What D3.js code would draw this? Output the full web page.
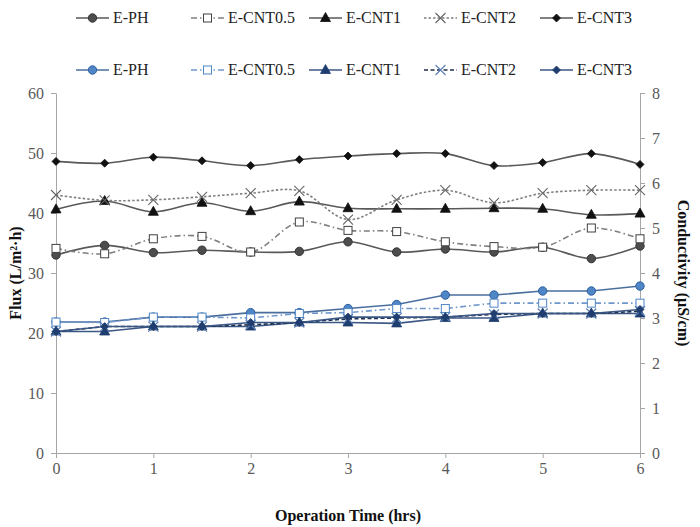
<!DOCTYPE html>
<html><head><meta charset="utf-8">
<script src="https://cdn.jsdelivr.net/npm/d3@7"></script>
<style>body{margin:0;background:#fff}svg{display:block}</style>
</head><body>
<svg id="c" width="700" height="527" font-family="'Liberation Serif', 'Times New Roman', serif"></svg>
<script>
const times = [0,0.5,1,1.5,2,2.5,3,3.5,4,4.5,5,5.5,6];
const xTicks = [0,1,2,3,4,5,6];
const fluxTicks = [0,10,20,30,40,50,60];
const condTicks = [0,1,2,3,4,5,6,7,8];
// Flux (left axis)
const fluxPH    = [33.0,34.6,33.4,33.8,33.5,33.6,35.2,33.5,34.0,33.5,34.3,32.4,34.5];
const fluxCNT05 = [34.1,33.2,35.7,36.1,33.5,38.5,37.1,36.9,35.2,34.4,34.3,37.5,35.7];
const fluxCNT1  = [40.6,42.0,40.2,41.7,40.3,41.9,40.8,40.7,40.7,40.8,40.7,39.7,39.9];
const fluxCNT2  = [43.0,42.1,42.2,42.7,43.3,43.7,38.9,42.2,43.8,41.7,43.3,43.8,43.8];
const fluxCNT3  = [48.6,48.3,49.3,48.7,47.9,48.9,49.5,49.9,49.9,47.9,48.4,49.9,48.1];
// Conductivity (right axis)
const condPH    = [2.91,2.91,3.02,3.02,3.12,3.12,3.21,3.30,3.51,3.51,3.60,3.60,3.71];
const condCNT05 = [2.91,2.90,3.02,3.02,3.00,3.10,3.12,3.21,3.21,3.33,3.33,3.33,3.33];
const condCNT1  = [2.70,2.70,2.81,2.81,2.81,2.90,2.90,2.88,3.00,3.00,3.10,3.10,3.10];
const condCNT2  = [2.70,2.81,2.81,2.81,2.85,2.90,2.98,3.00,3.02,3.08,3.10,3.10,3.15];
const condCNT3  = [2.70,2.81,2.81,2.81,2.90,2.90,3.02,3.02,3.02,3.10,3.10,3.10,3.19];
const names = ["E-PH","E-CNT0.5","E-CNT1","E-CNT2","E-CNT3"];

const FONT = "'Liberation Serif', 'Times New Roman', serif";
const svg = d3.select("#c");
const x = d3.scaleLinear().domain([0,6]).range([56,640]);
const yL = d3.scaleLinear().domain([0,60]).range([453,93]);
const yR = d3.scaleLinear().domain([0,8]).range([453,93]);
const axisCol = "#a6a6a6", tickCol = "#595959";

function styleAxis(g){
  g.attr("font-family",FONT);
  g.selectAll("path,line").attr("stroke",axisCol).attr("stroke-width",1);
  g.selectAll("text").attr("fill",tickCol).attr("font-size",16).attr("font-family",FONT);
}
svg.append("g").attr("transform","translate(0,453)")
  .call(d3.axisBottom(x).tickValues(xTicks).tickFormat(d3.format("d")).tickSize(5).tickSizeOuter(0).tickPadding(5)).call(styleAxis);
svg.append("g").attr("transform","translate(56,0)")
  .call(d3.axisLeft(yL).tickValues(fluxTicks).tickFormat(d3.format("d")).tickSize(5).tickSizeOuter(0).tickPadding(7)).call(styleAxis);
svg.append("g").attr("transform","translate(640,0)")
  .call(d3.axisRight(yR).tickValues(condTicks).tickFormat(d3.format("d")).tickSize(5).tickSizeOuter(0).tickPadding(7)).call(styleAxis);

function title(t){ return t.attr("font-weight","bold").attr("font-size",16).attr("fill","#111").attr("font-family",FONT); }
title(svg.append("text").attr("x",348).attr("y",521).attr("text-anchor","middle")).text("Operation Time (hrs)");
title(svg.append("text").attr("transform","translate(21,273) rotate(-90)").attr("text-anchor","middle")).text("Flux (L/m²·h)");
title(svg.append("text").attr("transform","translate(678,273) rotate(90)").attr("text-anchor","middle")).text("Conductivity (µS/cm)");

const gray = "#595959";
const lb = "#4f86c6", lbLine="#4a6f9e", db="#1f3d6e", dbLine="#3b5784";
const blackSeries = [
  {v:fluxPH, marker:"circle", dash:null, stroke:gray, fill:"#4d4d4d", mstroke:"#333"},
  {v:fluxCNT05, marker:"square", dash:"6,3,1.5,3", stroke:"#7f7f7f", fill:"#fff", mstroke:"#404040"},
  {v:fluxCNT1, marker:"triangle", dash:null, stroke:gray, fill:"#111", mstroke:"#111"},
  {v:fluxCNT2, marker:"x", dash:"2.5,2", stroke:"#7f7f7f", fill:"none", mstroke:"#666"},
  {v:fluxCNT3, marker:"diamond", dash:null, stroke:gray, fill:"#111", mstroke:"#111"}
];
const blueSeries = [
  {v:condPH, marker:"circle", dash:null, stroke:lbLine, fill:lb, mstroke:"#2f5f9e"},
  {v:condCNT05, marker:"square", dash:"6,3,1.5,3", stroke:"#6f97cc", fill:"#fff", mstroke:"#4f86c6"},
  {v:condCNT1, marker:"triangle", dash:null, stroke:dbLine, fill:db, mstroke:db},
  {v:condCNT2, marker:"x", dash:"4,2.5", stroke:"#1f2f4f", fill:"none", mstroke:"#5b7fb5"},
  {v:condCNT3, marker:"diamond", dash:null, stroke:dbLine, fill:db, mstroke:db}
];

function drawMarker(g, type, cx, cy, s){
  if(type==="circle") g.append("circle").attr("cx",cx).attr("cy",cy).attr("r",4.2)
      .attr("fill",s.fill).attr("stroke",s.mstroke).attr("stroke-width",1);
  else if(type==="square") g.append("rect").attr("x",cx-4).attr("y",cy-4).attr("width",8).attr("height",8)
      .attr("fill",s.fill).attr("stroke",s.mstroke).attr("stroke-width",1);
  else if(type==="triangle") g.append("path").attr("d",`M${cx},${cy-5.5}L${cx+5},${cy+3.5}L${cx-5},${cy+3.5}Z`)
      .attr("fill",s.fill).attr("stroke",s.mstroke).attr("stroke-width",0.8);
  else if(type==="x") g.append("path").attr("d",`M${cx-5},${cy-5}L${cx+5},${cy+5}M${cx-5},${cy+5}L${cx+5},${cy-5}`)
      .attr("fill","none").attr("stroke",s.mstroke).attr("stroke-width",1.1);
  else if(type==="diamond") g.append("path").attr("d",`M${cx},${cy-4}L${cx+4},${cy}L${cx},${cy+4}L${cx-4},${cy}Z`)
      .attr("fill",s.fill).attr("stroke",s.mstroke).attr("stroke-width",0.8);
}

function drawSeries(list, yScale, curve){
  list.forEach(s=>{
    const line = d3.line().x((d,i)=>x(times[i])).y(d=>yScale(d)).curve(curve);
    svg.append("path").datum(s.v).attr("d",line).attr("fill","none")
      .attr("stroke",s.stroke).attr("stroke-width",1.6).attr("stroke-dasharray",s.dash);
  });
  list.forEach(s=>{
    const g = svg.append("g");
    s.v.forEach((d,i)=>drawMarker(g, s.marker, x(times[i]), yScale(d), s));
  });
}
drawSeries(blueSeries, yR, d3.curveLinear);
drawSeries(blackSeries, yL, d3.curveCatmullRom.alpha(0.5));

// Legends
const legX = [76,191,309,424,540];
function drawLegend(list, y){
  list.forEach((s,i)=>{
    const g = svg.append("g");
    g.append("line").attr("x1",legX[i]).attr("x2",legX[i]+33).attr("y1",y).attr("y2",y)
      .attr("stroke",s.stroke).attr("stroke-width",1.6).attr("stroke-dasharray",s.dash);
    drawMarker(g, s.marker, legX[i]+16.5, y, s);
    g.append("text").attr("x",legX[i]+37).attr("y",y+5).attr("font-size",16).attr("fill","#222")
      .attr("font-family",FONT).text(names[i]);
  });
}
drawLegend(blackSeries, 18);
drawLegend(blueSeries, 70);
</script>
</body></html>
